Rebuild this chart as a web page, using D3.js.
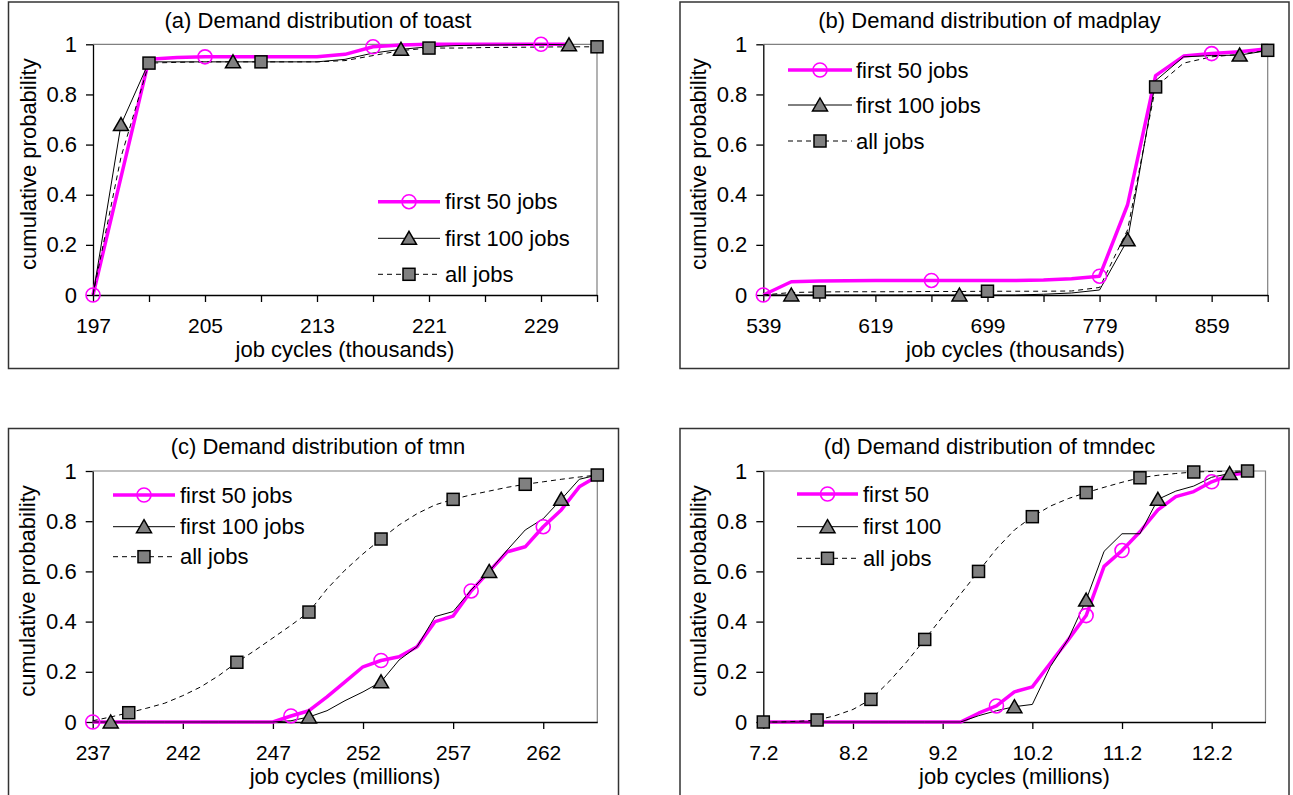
<!DOCTYPE html>
<html lang="en">
<head>
    <meta charset="UTF-8">
    <title>Demand distributions</title>
    <script src="https://d3js.org/d3.v7.min.js"></script>
    <style>
        body { margin: 0; background: #fff; }
        svg text { font-family: "Liberation Sans", Arial, Helvetica, sans-serif; font-size: 22px; fill: #000; }
        .x-axis text { font-size: 21px; }
    </style>
</head>
<body>
<svg id="chart" width="1293" height="795"></svg>
<script>
    // (a) toast, job cycles in thousands
    const toastX = [197, 199, 201, 203, 205, 207, 209, 211, 213, 215, 217, 219, 221, 223, 225, 227, 229, 231, 233];
    const toast50 = [0, 0.47, 0.94, 0.947, 0.95, 0.95, 0.95, 0.95, 0.95, 0.96, 0.99, 0.997, 1, 1, 1, 1, 1, 1, null];
    const toast100 = [0, 0.68, 0.93, 0.93, 0.93, 0.93, 0.93, 0.93, 0.93, 0.94, 0.965, 0.98, 0.99, 0.995, 0.997, 0.998, 1, 0.998, null];
    const toastAll = [0, 0.55, 0.925, 0.928, 0.93, 0.93, 0.93, 0.93, 0.93, 0.935, 0.955, 0.975, 0.985, 0.985, 0.987, 0.988, 0.989, 0.99, 0.99];
    const toastMarks = { m50: [197, 205, 217, 229], m100: [199, 207, 219, 231], all: [201, 209, 221, 233] };
    const toastTicks = [197, 201, 205, 209, 213, 217, 221, 225, 229, 233];
    const toastLabels = [197, 205, 213, 221, 229];

    // (b) madplay, job cycles in thousands
    const madX = [539, 559, 579, 599, 619, 639, 659, 679, 699, 719, 739, 759, 779, 799, 819, 839, 859, 879, 899];
    const mad50 = [0, 0.053, 0.056, 0.057, 0.058, 0.058, 0.058, 0.058, 0.058, 0.058, 0.06, 0.065, 0.075, 0.36, 0.875, 0.953, 0.963, 0.97, 0.982];
    const mad100 = [0, 0, 0, 0, 0, 0, 0, 0, 0, 0, 0.003, 0.008, 0.02, 0.22, 0.855, 0.95, 0.955, 0.957, 0.975];
    const madAll = [0, 0.01, 0.012, 0.013, 0.013, 0.013, 0.014, 0.014, 0.015, 0.015, 0.015, 0.016, 0.03, 0.26, 0.83, 0.925, 0.95, 0.96, 0.976];
    const madMarks = { m50: [539, 659, 779, 859], m100: [559, 679, 799, 879], all: [579, 699, 819, 899] };
    const madTicks = [539, 579, 619, 659, 699, 739, 779, 819, 859, 899];
    const madLabels = [539, 619, 699, 779, 859];

    // (c) tmn, job cycles in millions
    const tmnX = [237, 238, 239, 240, 241, 242, 243, 244, 245, 246, 247, 248, 249, 250, 251, 252, 253, 254, 255, 256, 257, 258, 259, 260, 261, 262, 263, 264, 265];
    const tmn50 = [0, 0, 0, 0, 0, 0, 0, 0, 0, 0, 0, 0.024, 0.045, 0.1, 0.16, 0.22, 0.245, 0.26, 0.3, 0.4, 0.422, 0.522, 0.6, 0.678, 0.698, 0.778, 0.845, 0.937, 0.979];
    const tmn100 = [0, 0, 0, 0, 0, 0, 0, 0, 0, 0, 0, 0.005, 0.02, 0.045, 0.085, 0.12, 0.16, 0.247, 0.3, 0.42, 0.44, 0.526, 0.6, 0.685, 0.765, 0.81, 0.887, 0.967, 0.984];
    const tmnAll = [0.005, 0.02, 0.037, 0.055, 0.075, 0.105, 0.14, 0.185, 0.238, 0.285, 0.335, 0.385, 0.438, 0.53, 0.605, 0.67, 0.729, 0.785, 0.83, 0.865, 0.887, 0.905, 0.92, 0.935, 0.947, 0.957, 0.967, 0.976, 0.984];
    const tmnMarks = { m50: [237, 248, 253, 258, 262], m100: [238, 249, 253, 259, 263], all: [239, 245, 249, 253, 257, 261, 265] };
    const tmnTicks = [237, 242, 247, 252, 257, 262];
    const tmnLabels = [237, 242, 247, 252, 257, 262];

    // (d) tmndec, job cycles in millions
    const decX = [7.2, 7.4, 7.6, 7.8, 8.0, 8.2, 8.4, 8.6, 8.8, 9.0, 9.2, 9.4, 9.6, 9.8, 10.0, 10.2, 10.4, 10.6, 10.8, 11.0, 11.2, 11.4, 11.6, 11.8, 12.0, 12.2, 12.4, 12.6];
    const dec50 = [0, 0, 0, 0, 0, 0, 0, 0, 0, 0, 0, 0, 0.035, 0.064, 0.12, 0.14, 0.234, 0.327, 0.424, 0.62, 0.683, 0.758, 0.845, 0.898, 0.918, 0.957, 0.984, 0.993];
    const dec100 = [0, 0, 0, 0, 0, 0, 0, 0, 0, 0, 0, 0, 0.025, 0.045, 0.061, 0.07, 0.22, 0.33, 0.486, 0.68, 0.75, 0.75, 0.887, 0.92, 0.94, 0.975, 0.99, 1];
    const decAll = [0, 0, 0.003, 0.008, 0.025, 0.05, 0.09, 0.16, 0.24, 0.329, 0.42, 0.51, 0.6, 0.69, 0.765, 0.818, 0.86, 0.89, 0.914, 0.935, 0.955, 0.973, 0.983, 0.99, 0.996, 0.998, 0.999, 1];
    const decMarks = { m50: [9.8, 10.8, 11.2, 12.2], m100: [10.0, 10.8, 11.6, 12.4], all: [7.2, 7.8, 8.4, 9.0, 9.6, 10.2, 10.8, 11.4, 12.0, 12.6] };
    const decTicks = [7.2, 8.2, 9.2, 10.2, 11.2, 12.2];
    const decLabels = [7.2, 8.2, 9.2, 10.2, 11.2, 12.2];

    const yTicks = [0, 0.2, 0.4, 0.6, 0.8, 1];
    const legendJobs = ['first 50 jobs', 'first 100 jobs', 'all jobs'];
    const legendShort = ['first 50', 'first 100', 'all jobs'];

    const MAGENTA = '#ff00ff';
    const svg = d3.select('#chart');

    const panels = [
        { title: '(a) Demand distribution of toast', xTitle: 'job cycles (thousands)',
          xs: toastX, s50: toast50, s100: toast100, sAll: toastAll, marks: toastMarks,
          ticks: toastTicks, labels: toastLabels, domain: [197, 233], fmt: d => d,
          box: [8.5, 2, 610, 366.5], plot: [93, 44.3, 597, 295],
          legend: { x0: 378, x1: 440, tx: 445, rows: [201.7, 238.3, 274.3] }, names: legendJobs },
        { title: '(b) Demand distribution of madplay', xTitle: 'job cycles (thousands)',
          xs: madX, s50: mad50, s100: mad100, sAll: madAll, marks: madMarks,
          ticks: madTicks, labels: madLabels, domain: [539, 899], fmt: d => d,
          box: [680, 2, 609, 366.5], plot: [763.3, 44.3, 1267.7, 295],
          legend: { x0: 788, x1: 852, tx: 856, rows: [70, 105, 141] }, names: legendJobs },
        { title: '(c) Demand distribution of tmn', xTitle: 'job cycles (millions)',
          xs: tmnX, s50: tmn50, s100: tmn100, sAll: tmnAll, marks: tmnMarks,
          ticks: tmnTicks, labels: tmnLabels, domain: [237, 265], fmt: d => d,
          box: [8.5, 428.5, 610, 372], plot: [92.7, 471, 597.3, 722],
          legend: { x0: 113, x1: 175, tx: 180, rows: [495, 526.7, 556.7] }, names: legendJobs },
        { title: '(d) Demand distribution of tmndec', xTitle: 'job cycles (millions)',
          xs: decX, s50: dec50, s100: dec100, sAll: decAll, marks: decMarks,
          ticks: decTicks, labels: decLabels, domain: [7.2, 12.8], fmt: d => d.toFixed(1),
          box: [680, 428.5, 609, 372], plot: [763.3, 471, 1265.5, 722],
          legend: { x0: 797, x1: 858, tx: 863, rows: [494, 526.7, 558.3] }, names: legendShort }
    ];

    function drawMarker(g, kind, cx, cy) {
        if (kind === 'm50') {
            g.append('circle').attr('cx', cx).attr('cy', cy).attr('r', 7)
                .attr('fill', 'none').attr('stroke', MAGENTA).attr('stroke-width', 1.6);
        } else if (kind === 'm100') {
            g.append('path').attr('transform', `translate(${cx},${cy})`)
                .attr('d', 'M0,-7L7.5,6L-7.5,6Z')
                .attr('fill', '#808080').attr('stroke', '#000').attr('stroke-width', 1.5);
        } else {
            g.append('rect').attr('x', cx - 6).attr('y', cy - 6).attr('width', 12).attr('height', 12)
                .attr('fill', '#808080').attr('stroke', '#000').attr('stroke-width', 1.5);
        }
    }

    const styles = {
        m50: { stroke: MAGENTA, width: 3.5, dash: null },
        m100: { stroke: '#000', width: 1, dash: null },
        all: { stroke: '#000', width: 1, dash: '5,4' }
    };

    function drawPanel(p) {
        const g = svg.append('g');
        const [left, top, right, bottom] = p.plot;

        g.append('rect').attr('x', p.box[0]).attr('y', p.box[1])
            .attr('width', p.box[2]).attr('height', p.box[3])
            .attr('fill', 'none').attr('stroke', '#333').attr('stroke-width', 1.5);

        const x = d3.scaleLinear().domain(p.domain).range([left, right]);
        const y = d3.scaleLinear().domain([0, 1]).range([bottom, top]);

        // grey top and right edges of the plot area
        g.append('path').attr('d', `M${left},${top}H${right}V${bottom}`)
            .attr('fill', 'none').attr('stroke', '#808080').attr('stroke-width', 1.2);

        const xAxis = g.append('g').attr('class', 'x-axis').attr('transform', `translate(0,${bottom})`)
            .call(d3.axisBottom(x).tickValues(p.ticks)
                .tickFormat(d => p.labels.some(l => Math.abs(l - d) < 1e-9) ? p.fmt(d) : '')
                .tickSize(7).tickSizeOuter(0).tickPadding(16.5));
        const yAxis = g.append('g').attr('class', 'y-axis').attr('transform', `translate(${left},0)`)
            .call(d3.axisLeft(y).tickValues(yTicks).tickFormat(d => String(+d.toFixed(1)))
                .tickSize(7).tickSizeOuter(0).tickPadding(9));
        [xAxis, yAxis].forEach(a => {
            a.attr('font-size', null).attr('font-family', null);
            a.selectAll('path, line').attr('stroke', '#000').attr('stroke-width', 1.3);
        });

        // series: first 50, first 100, all jobs
        const series = [['m50', p.s50], ['m100', p.s100], ['all', p.sAll]];
        series.forEach(([key, vals]) => {
            const pts = p.xs.map((v, i) => ({ x: v, y: vals[i] }));
            const line = d3.line().defined(d => d.y != null).x(d => x(d.x)).y(d => y(d.y));
            const st = styles[key];
            g.append('path').datum(pts).attr('d', line)
                .attr('fill', 'none').attr('stroke', st.stroke).attr('stroke-width', st.width)
                .attr('stroke-dasharray', st.dash).attr('stroke-linejoin', 'round');
        });
        series.forEach(([key, vals]) => {
            p.marks[key].forEach(mx => {
                const i = p.xs.findIndex(v => Math.abs(v - mx) < 1e-9);
                drawMarker(g, key, x(mx), y(vals[i]));
            });
        });

        // legend
        const lg = p.legend;
        ['m50', 'm100', 'all'].forEach((key, i) => {
            const ry = lg.rows[i], st = styles[key];
            g.append('line').attr('x1', lg.x0).attr('x2', lg.x1).attr('y1', ry).attr('y2', ry)
                .attr('stroke', st.stroke).attr('stroke-width', st.width).attr('stroke-dasharray', st.dash);
            drawMarker(g, key, (lg.x0 + lg.x1) / 2, ry);
            g.append('text').attr('x', lg.tx).attr('y', ry).attr('dy', '0.35em').text(p.names[i]);
        });

        // titles
        g.append('text').attr('x', p.box[0] + 309.5).attr('y', p.box[1] + 25.5)
            .attr('text-anchor', 'middle').text(p.title);
        g.append('text').attr('x', (left + right) / 2).attr('y', bottom + 62)
            .attr('text-anchor', 'middle').text(p.xTitle);
        g.append('text')
            .attr('transform', `translate(${left - 57.5},${(top + bottom) / 2 - 5.5}) rotate(-90)`)
            .attr('text-anchor', 'middle').text('cumulative probability');
    }

    panels.forEach(drawPanel);
</script>
</body>
</html>
